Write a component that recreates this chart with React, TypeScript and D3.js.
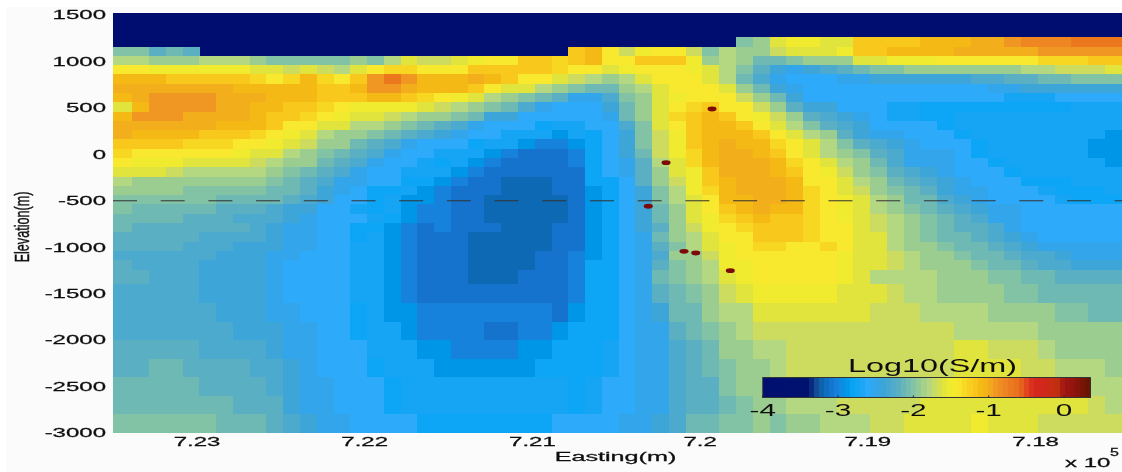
import React from "react";
import * as d3 from "d3";

const W = 1122, H = 472;
const PLOT = { left: 113, right: 1122, top: 13, bottom: 433 };

// tick labels
const yTicks = [1500, 1000, 500, 0, -500, -1000, -1500, -2000, -2500, -3000];
const xTicks = [723000, 722000, 721000, 720000, 719000, 718000];
const xTickLabels = ["7.23", "7.22", "7.21", "7.2", "7.19", "7.18"];
const barTicks = [-4, -3, -2, -1, 0];

// cell geometry (metres)
const firstEasting = 723486;
const cellWidth = 100;
const rowEdges = [1260, 1160, 1060, 960, 860, 760, 660, 560, 460, 360, 260, 160, 60, -40, -140, -240, -340, -440, -540, -640, -740, -840, -940, -1040, -1140, -1240, -1400, -1600, -1800, -2000, -2200, -2400, -2600, -2800, -3000];

// earthquakes
const quakeE = [719929, 720203, 720309, 720096, 720026, 719820];
const quakeZ = [488, -90, -559, -1044, -1062, -1253];

// colormap
const cmapV = [-4, -3.4, -3.3, -3.2, -3.1, -3.0, -2.9, -2.8, -2.7, -2.6, -2.5, -2.4, -2.3, -2.2, -2.1, -2.0, -1.9, -1.8, -1.7, -1.6, -1.5, -1.4, -1.3, -1.2, -1.1, -1.0, -0.9, -0.8, -0.7, -0.6, -0.5, -0.4, -0.2, -0.1, 0, 0.1, 0.35];
const cmapC = ["#000f70", "#001270", "#14468f", "#0d69b4", "#1273cd", "#1982dc", "#0096e8", "#0aa5f5", "#19a5f5", "#2daafa", "#32a5eb", "#3ca5d7", "#4baacd", "#5aafc3", "#6eb9b4", "#82c3a5", "#9bcd91", "#b4d782", "#cddc5f", "#e1e43c", "#f0eb2d", "#f8e82d", "#f8d723", "#f8c81e", "#f5b914", "#f3ae1a", "#f09623", "#ee8723", "#eb781e", "#e86e1e", "#e1461e", "#d7281e", "#cd2819", "#be320f", "#a01414", "#96140f", "#641400"];

// log10 conductivity in tenths, one row per depth, -40 = no data
const r01 = [-40,-40,-40,-40,-40,-40,-40,-40,-40,-40,-40,-40,-40,-40,-40,-40,-40,-40,-40,-40, -40,-40,-40,-40,-40,-40,-40,-40,-40,-40,-40,-40,-40,-40,-40,-40,-40,-20,-19,-16, -15,-15,-16,-16,-12,-12,-12,-12,-11,-11,-11,-10,-10,-9,-8,-8,-8,-7,-7,-7];
const r02 = [-20,-20,-22,-21,-22,-40,-40,-40,-40,-40,-40,-40,-40,-40,-40,-40,-40,-40,-40,-40, -40,-40,-40,-40,-40,-40,-40,-12,-11,-14,-17,-15,-14,-14,-17,-20,-18,-19,-19,-17, -16,-16,-16,-15,-12,-12,-11,-11,-11,-11,-10,-10,-10,-10,-10,-9,-9,-9,-9,-9];
const r03 = [-18,-18,-19,-19,-19,-18,-18,-18,-19,-20,-20,-20,-20,-20,-19,-20,-18,-16,-17,-17, -16,-15,-14,-14,-12,-12,-13,-12,-11,-14,-14,-12,-12,-12,-15,-19,-18,-19,-21,-21, -20,-19,-19,-19,-16,-16,-15,-15,-15,-14,-14,-14,-14,-14,-14,-13,-13,-13,-12,-12];
const r04 = [-14,-14,-15,-15,-15,-15,-15,-15,-16,-16,-17,-16,-17,-18,-16,-14,-13,-13,-14,-14, -14,-12,-12,-12,-12,-12,-13,-14,-14,-16,-15,-14,-14,-14,-15,-16,-18,-20,-22,-24, -25,-24,-23,-22,-21,-20,-20,-19,-19,-19,-19,-19,-19,-19,-18,-18,-17,-17,-17,-16];
const r05 = [-11,-11,-11,-12,-12,-12,-12,-12,-13,-14,-13,-11,-13,-14,-12,-9,-7,-9,-11,-11, -11,-10,-11,-12,-14,-14,-16,-17,-18,-19,-18,-16,-14,-14,-14,-16,-18,-21,-23,-25, -26,-26,-26,-25,-25,-24,-24,-24,-24,-24,-24,-23,-23,-22,-22,-21,-21,-20,-20,-20];
const r06 = [-10,-10,-10,-10,-10,-10,-10,-11,-11,-11,-11,-11,-12,-12,-11,-9,-9,-10,-11,-11, -11,-12,-14,-16,-16,-18,-19,-20,-21,-21,-19,-18,-16,-14,-14,-14,-16,-19,-21,-24, -25,-26,-26,-26,-26,-26,-26,-26,-26,-26,-26,-26,-25,-25,-24,-24,-24,-24,-24,-24];
const r07 = [-11,-10,-9,-9,-9,-9,-10,-10,-10,-11,-11,-11,-12,-12,-12,-11,-11,-12,-13,-14, -15,-16,-18,-19,-20,-21,-22,-25,-25,-23,-20,-19,-16,-15,-14,-14,-14,-17,-19,-21, -24,-26,-26,-26,-26,-26,-26,-26,-26,-26,-26,-26,-26,-27,-27,-27,-26,-26,-26,-26];
const r08 = [-16,-11,-9,-9,-9,-9,-10,-10,-11,-11,-12,-12,-13,-14,-15,-15,-15,-15,-16,-17, -18,-19,-20,-21,-23,-25,-26,-26,-26,-24,-21,-19,-16,-14,-13,-12,-14,-14,-17,-19, -22,-24,-24,-26,-26,-26,-27,-27,-28,-28,-28,-28,-28,-28,-28,-28,-28,-27,-27,-27];
const r09 = [-11,-9,-9,-9,-10,-10,-10,-10,-11,-12,-12,-13,-14,-15,-16,-16,-17,-18,-19,-19, -20,-21,-24,-24,-26,-26,-26,-26,-26,-25,-21,-19,-16,-13,-12,-11,-12,-14,-15,-17, -19,-22,-23,-24,-25,-26,-27,-27,-28,-28,-27,-27,-27,-27,-27,-27,-27,-27,-27,-27];
const r10 = [-10,-10,-10,-10,-10,-10,-11,-11,-11,-12,-14,-14,-16,-16,-18,-18,-19,-20,-21,-22, -23,-25,-26,-26,-26,-28,-27,-27,-26,-26,-23,-20,-16,-14,-12,-11,-11,-12,-14,-16, -18,-20,-22,-23,-24,-26,-26,-26,-26,-28,-27,-27,-27,-27,-27,-27,-27,-27,-27,-27];
const r11 = [-10,-11,-11,-11,-11,-12,-12,-12,-13,-14,-15,-16,-18,-19,-19,-20,-21,-22,-23,-24, -25,-26,-26,-27,-27,-27,-29,-27,-28,-26,-24,-20,-17,-15,-12,-11,-11,-11,-12,-14, -16,-18,-19,-22,-24,-25,-25,-26,-26,-26,-28,-27,-27,-27,-27,-27,-27,-27,-27,-29];
const r12 = [-12,-12,-12,-12,-13,-13,-13,-14,-14,-15,-16,-17,-19,-19,-21,-22,-23,-25,-26,-26, -26,-28,-27,-27,-29,-30,-30,-29,-28,-26,-24,-20,-17,-15,-12,-11,-10,-11,-11,-13, -14,-16,-18,-20,-22,-23,-24,-25,-26,-26,-26,-28,-27,-27,-27,-27,-27,-27,-29,-29];
const r13 = [-13,-14,-14,-14,-14,-14,-14,-15,-16,-16,-18,-19,-20,-21,-22,-23,-25,-26,-26,-27, -27,-27,-29,-30,-31,-31,-31,-30,-28,-26,-24,-21,-17,-15,-13,-11,-10,-10,-11,-12, -14,-16,-18,-19,-20,-22,-23,-25,-25,-25,-26,-28,-27,-27,-27,-27,-27,-27,-29,-29];
const r14 = [-14,-15,-15,-15,-16,-16,-16,-16,-17,-18,-19,-19,-21,-22,-23,-25,-26,-26,-27,-28, -27,-29,-30,-31,-31,-31,-31,-30,-28,-26,-25,-22,-18,-16,-13,-11,-10,-10,-10,-11, -13,-14,-16,-18,-19,-21,-23,-25,-25,-25,-26,-26,-28,-27,-27,-27,-27,-27,-27,-29];
const r15 = [-16,-16,-16,-17,-18,-18,-18,-18,-18,-19,-20,-21,-22,-23,-25,-26,-26,-27,-27,-27, -29,-30,-31,-31,-31,-31,-31,-31,-28,-26,-25,-22,-19,-16,-15,-12,-10,-10,-10,-11, -12,-14,-15,-17,-19,-20,-22,-23,-24,-25,-26,-26,-26,-28,-27,-27,-27,-27,-27,-27];
const r16 = [-18,-19,-19,-19,-19,-19,-19,-19,-19,-20,-21,-22,-23,-25,-25,-26,-26,-28,-28,-29, -30,-31,-31,-32,-32,-32,-31,-31,-28,-28,-26,-22,-19,-17,-15,-12,-11,-10,-10,-10, -11,-14,-14,-16,-18,-19,-21,-22,-23,-24,-25,-26,-26,-26,-28,-28,-28,-27,-27,-27];
const r17 = [-19,-19,-19,-19,-20,-20,-20,-20,-20,-21,-21,-22,-24,-25,-26,-28,-28,-27,-29,-30, -31,-31,-31,-32,-32,-32,-31,-31,-29,-28,-26,-24,-20,-18,-15,-13,-11,-10,-10,-10, -11,-13,-14,-16,-17,-19,-20,-21,-22,-24,-25,-25,-26,-26,-26,-27,-28,-28,-28,-27];
const r18 = [-20,-20,-20,-20,-20,-20,-21,-21,-21,-21,-22,-23,-24,-26,-26,-28,-27,-29,-29,-30, -31,-31,-32,-32,-32,-32,-32,-31,-29,-28,-26,-24,-20,-18,-16,-14,-11,-11,-10,-10, -11,-13,-14,-15,-16,-18,-19,-21,-21,-23,-24,-25,-26,-26,-26,-26,-27,-28,-28,-28];
const r19 = [-20,-21,-21,-21,-21,-21,-22,-22,-22,-23,-24,-24,-26,-26,-27,-28,-27,-29,-30,-30, -31,-31,-32,-32,-32,-32,-32,-31,-29,-28,-26,-24,-21,-19,-16,-14,-12,-11,-10,-11, -11,-13,-14,-15,-16,-18,-19,-20,-21,-22,-23,-24,-25,-25,-26,-26,-26,-26,-26,-26];
const r20 = [-21,-21,-21,-21,-22,-22,-22,-23,-23,-23,-24,-25,-26,-26,-26,-27,-28,-29,-30,-30, -31,-31,-32,-32,-32,-32,-32,-31,-29,-28,-26,-24,-21,-19,-16,-15,-13,-12,-11,-12, -12,-13,-14,-15,-16,-17,-18,-19,-20,-21,-22,-23,-25,-25,-26,-26,-26,-26,-26,-26];
const r21 = [-21,-22,-22,-22,-22,-22,-22,-22,-23,-24,-25,-25,-26,-26,-28,-28,-29,-30,-31,-30, -31,-31,-31,-32,-32,-32,-31,-31,-29,-28,-26,-24,-22,-19,-17,-15,-14,-13,-12,-12, -12,-13,-14,-14,-16,-17,-18,-19,-20,-21,-22,-22,-23,-25,-26,-26,-26,-26,-26,-26];
const r22 = [-22,-22,-22,-22,-22,-23,-23,-23,-23,-24,-25,-25,-26,-26,-28,-27,-29,-30,-31,-31, -31,-32,-32,-32,-32,-32,-31,-31,-29,-28,-26,-25,-21,-19,-18,-16,-14,-14,-12,-12, -12,-13,-14,-14,-16,-16,-18,-19,-20,-21,-21,-22,-23,-24,-25,-26,-26,-26,-26,-26];
const r23 = [-22,-22,-22,-22,-23,-23,-23,-24,-24,-24,-25,-25,-26,-26,-27,-27,-29,-30,-31,-31, -31,-32,-32,-32,-32,-32,-31,-31,-29,-28,-26,-25,-22,-20,-18,-16,-15,-14,-13,-13, -14,-14,-13,-14,-16,-16,-18,-19,-19,-20,-21,-21,-22,-23,-24,-25,-25,-25,-25,-25];
const r24 = [-23,-23,-23,-23,-23,-23,-24,-24,-24,-25,-25,-26,-26,-26,-27,-27,-29,-30,-31,-31, -31,-32,-32,-32,-32,-31,-31,-30,-29,-28,-26,-25,-23,-19,-19,-17,-15,-14,-14,-14, -14,-14,-14,-15,-16,-16,-17,-18,-19,-19,-20,-21,-21,-22,-23,-23,-24,-25,-25,-25];
const r25 = [-22,-23,-23,-23,-23,-24,-24,-24,-24,-25,-26,-26,-26,-26,-27,-27,-29,-30,-31,-31, -31,-32,-32,-32,-32,-31,-31,-30,-28,-28,-26,-25,-22,-20,-19,-18,-15,-15,-14,-14, -14,-14,-14,-15,-16,-16,-17,-18,-19,-19,-19,-20,-21,-21,-22,-23,-23,-24,-24,-24];
const r26 = [-22,-22,-23,-23,-23,-24,-24,-24,-24,-25,-26,-26,-26,-26,-27,-27,-29,-30,-31,-31, -31,-32,-32,-32,-31,-31,-31,-30,-28,-28,-26,-25,-21,-20,-19,-18,-16,-15,-14,-14, -14,-14,-14,-15,-16,-18,-18,-18,-18,-19,-19,-19,-20,-20,-21,-21,-22,-22,-22,-22];
const r27 = [-23,-23,-23,-23,-23,-24,-24,-24,-24,-25,-26,-26,-26,-26,-27,-27,-29,-30,-31,-31, -31,-31,-31,-31,-31,-31,-31,-30,-28,-28,-26,-25,-22,-21,-20,-19,-17,-16,-15,-15, -15,-15,-15,-16,-16,-16,-17,-18,-18,-19,-19,-19,-19,-20,-20,-21,-21,-21,-21,-21];
const r28 = [-23,-23,-23,-23,-23,-23,-24,-24,-24,-25,-25,-26,-26,-26,-28,-27,-29,-29,-30,-30, -30,-30,-30,-30,-30,-30,-31,-29,-28,-28,-26,-25,-24,-21,-21,-19,-18,-18,-16,-16, -16,-16,-16,-16,-16,-17,-17,-17,-18,-18,-18,-18,-19,-19,-19,-19,-20,-20,-21,-21];
const r29 = [-23,-23,-23,-23,-23,-23,-23,-24,-24,-24,-25,-25,-26,-26,-28,-27,-27,-29,-30,-30, -30,-30,-31,-31,-30,-30,-29,-28,-28,-28,-26,-25,-25,-22,-21,-20,-19,-18,-17,-17, -17,-17,-17,-17,-17,-17,-17,-17,-17,-17,-18,-18,-18,-18,-18,-19,-19,-19,-19,-19];
const r30 = [-22,-22,-22,-22,-22,-23,-23,-23,-23,-24,-25,-25,-26,-26,-26,-27,-27,-27,-29,-29, -30,-30,-30,-30,-29,-29,-28,-28,-28,-27,-26,-25,-25,-23,-22,-21,-19,-19,-18,-18, -17,-17,-17,-17,-17,-17,-17,-17,-17,-17,-16,-16,-17,-17,-17,-18,-19,-19,-19,-19];
const r31 = [-22,-22,-21,-21,-22,-22,-22,-22,-23,-23,-24,-25,-26,-26,-26,-28,-27,-27,-27,-29, -29,-29,-29,-29,-29,-28,-28,-28,-28,-27,-26,-25,-25,-23,-22,-21,-20,-19,-19,-18, -17,-17,-17,-17,-17,-17,-17,-17,-17,-17,-16,-16,-16,-16,-17,-17,-18,-18,-18,-19];
const r32 = [-21,-21,-21,-21,-21,-22,-22,-22,-22,-23,-24,-25,-25,-26,-26,-26,-28,-27,-27,-27, -27,-27,-27,-27,-27,-27,-27,-28,-27,-26,-26,-25,-25,-23,-22,-22,-20,-19,-19,-18, -17,-17,-17,-17,-17,-17,-17,-17,-17,-17,-16,-16,-16,-16,-16,-16,-16,-18,-18,-18];
const r33 = [-21,-21,-21,-21,-21,-21,-21,-22,-22,-22,-24,-25,-25,-26,-26,-26,-28,-27,-27,-27, -27,-27,-27,-27,-27,-27,-27,-28,-27,-26,-26,-25,-25,-23,-22,-22,-21,-20,-19,-19, -18,-18,-18,-17,-17,-17,-17,-17,-16,-16,-16,-16,-16,-16,-16,-16,-16,-16,-17,-18];
const r34 = [-20,-20,-20,-20,-20,-20,-21,-21,-21,-22,-23,-24,-25,-25,-26,-26,-26,-26,-28,-28, -28,-28,-28,-28,-28,-28,-26,-26,-26,-26,-25,-25,-24,-23,-21,-21,-20,-20,-19,-20, -19,-19,-18,-18,-18,-17,-17,-16,-16,-16,-16,-15,-16,-16,-16,-17,-17,-17,-17,-17];
const grid = [r01, r02, r03, r04, r05, r06, r07, r08, r09, r10, r11, r12, r13, r14, r15, r16, r17, r18, r19, r20, r21, r22, r23, r24, r25, r26, r27, r28, r29, r30, r31, r32, r33, r34];

const FONT = "'Liberation Sans', Arial, sans-serif";

const x = d3.scaleLinear().domain([723000, 718000]).range([197, 1035.5]);
const y = d3.scaleLinear().domain([1500, -3000]).range([15, 433]);
const color = d3.scaleLinear<string>().domain(cmapV).range(cmapC).interpolate(d3.interpolateRgb);
const bar = d3.scaleLinear().domain([-4, 0]).range([762.7, 1064]);
const barEnd = 0.35;
const barSteps = d3.range(64);

const edgeX = (i: number) => (i === 0 ? PLOT.left : i >= 60 ? PLOT.right + 4 : x(firstEasting - cellWidth * i));

function Stretched({ px, py, sx = 2, sy = 1, size = 12, anchor = "middle", rot = 0, sw = 0.25, children }: any) {
  return (
    <text
      transform={`translate(${px},${py}) rotate(${rot}) scale(${sx},${sy})`}
      fontFamily={FONT}
      fontSize={size}
      textAnchor={anchor}
      fill="#111"
      stroke="#111"
      strokeWidth={sw}
      filter="url(#soft)"
    >
      {children}
    </text>
  );
}

export default function App() {
  return (
    <svg
      width={W}
      height={H}
      viewBox={`0 0 ${W} ${H}`}
      style={{ position: "absolute", left: 0, top: 0, display: "block", background: "#fff" }}
    >
      <defs>
        <filter id="cellBlur" filterUnits="userSpaceOnUse" x={0} y={0} width={W + 10} height={H}>
          <feGaussianBlur stdDeviation={0.6} />
        </filter>
        <filter id="soft" x="-10%" y="-30%" width="120%" height="160%">
          <feGaussianBlur stdDeviation={0.3} />
        </filter>
      </defs>
      <rect x={6} y={7} width={W - 6} height={H - 7} fill="#fbfbfb" />
      <g shapeRendering="crispEdges" filter="url(#cellBlur)">
        <rect
          x={PLOT.left}
          y={PLOT.top}
          width={PLOT.right - PLOT.left + 4}
          height={PLOT.bottom - PLOT.top}
          fill={color(-4)}
        />
        {grid.map((row, r) =>
          row.map((v, c) =>
            v <= -40 ? null : (
              <rect
                key={`${r}-${c}`}
                x={edgeX(c)}
                y={y(rowEdges[r])}
                width={edgeX(c + 1) - edgeX(c) + 0.5}
                height={y(rowEdges[r + 1]) - y(rowEdges[r]) + (r === grid.length - 1 ? 0 : 0.5)}
                fill={color(v / 10)}
              />
            )
          )
        )}
      </g>
      <line x1={PLOT.left} x2={PLOT.right} y1={y(-500)} y2={y(-500)} stroke="#333" strokeWidth={1} strokeDasharray="24 23.7" />
      {quakeE.map((e, i) => (
        <ellipse key={i} cx={x(e)} cy={y(quakeZ[i])} rx={4.5} ry={2.4} fill="#7d0a0a" />
      ))}

      {yTicks.map((t) => (
        <Stretched key={t} px={106} py={y(t) + 4.3} anchor="end">{t}</Stretched>
      ))}
      {xTicks.map((t, i) => (
        <Stretched key={t} px={x(t)} py={446}>{xTickLabels[i]}</Stretched>
      ))}
      <Stretched px={615.5} py={461} sx={2.1}>Easting(m)</Stretched>
      <Stretched px={29} py={227} sx={1.05} sy={1.7} rot={-90}>Elevation(m)</Stretched>
      <Stretched px={1065} py={467} anchor="start">x 10</Stretched>
      <Stretched px={1110} py={456} anchor="start" size={10} sx={1.6}>5</Stretched>

      <g shapeRendering="crispEdges">
        {barSteps.map((i) => {
          const span = barEnd + 4;
          const v0 = -4 + (span * i) / 64;
          const v1 = -4 + (span * (i + 1)) / 64;
          return (
            <rect key={i} x={bar(v0)} y={377.5} width={bar(v1) - bar(v0) + 0.5} height={20} fill={color((v0 + v1) / 2)} />
          );
        })}
      </g>
      <rect x={bar(-4)} y={377.5} width={bar(barEnd) - bar(-4)} height={20} fill="none" stroke="#333" strokeWidth={1} />
      {barTicks.map((t) => (
        <g key={t}>
          <line x1={bar(t)} x2={bar(t)} y1={397.5} y2={395.5} stroke="#222" />
          <Stretched px={bar(t)} py={416} sx={1.75} size={17} sw={0}>{String(t)}</Stretched>
        </g>
      ))}
      <Stretched px={932.5} py={372} size={18} sx={1.8} sw={0}>Log10(S/m)</Stretched>
    </svg>
  );
}
